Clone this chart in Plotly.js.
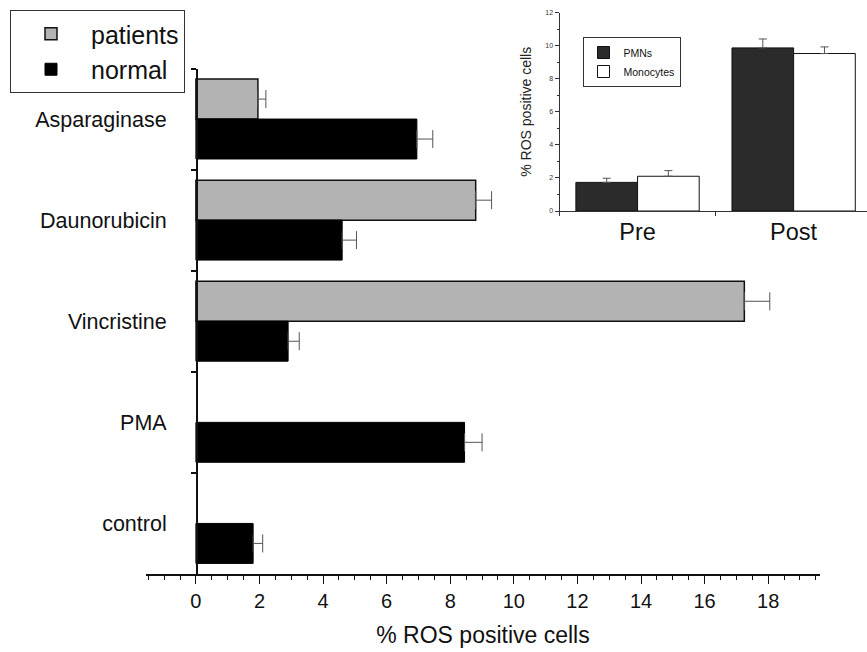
<!DOCTYPE html>
<html>
<head>
<meta charset="utf-8">
<script src="https://cdn.plot.ly/plotly-3.0.1.min.js"></script>
<style>html,body{margin:0;padding:0;background:#fff;}#chart{width:867px;height:652px;}</style>
</head>
<body>
<div id="chart"></div>
<script>
// Main chart data
const categories = ['Asparaginase', 'Daunorubicin', 'Vincristine', 'PMA', 'control'];
const patients = [1.95, 8.8, 17.25, null, null];
const patientsErr = [0.25, 0.5, 0.8, null, null];
const normal = [6.95, 4.6, 2.9, 8.45, 1.8];
const normalErr = [0.5, 0.45, 0.35, 0.55, 0.3];

// Inset data
const insetCats = ['Pre', 'Post'];
const pmns = [1.73, 9.86];
const pmnsErr = [0.25, 0.54];
const monocytes = [2.1, 9.52];
const monocytesErr = [0.34, 0.4];

const FONT = 'Liberation Sans, Arial, sans-serif';
const W = 867, H = 652;

const traces = [
  {
    type: 'bar', orientation: 'h', name: 'patients',
    y: categories, x: patients,
    marker: {color: '#b3b3b3', line: {color: '#111', width: 1.5}},
    error_x: {type: 'data', array: patientsErr, arrayminus: patientsErr.map(() => 0), symmetric: false,
              color: '#555', thickness: 1, width: 9},
    xaxis: 'x', yaxis: 'y', legend: 'legend'
  },
  {
    type: 'bar', orientation: 'h', name: 'normal',
    y: categories, x: normal,
    marker: {color: '#000', line: {color: '#000', width: 1}},
    error_x: {type: 'data', array: normalErr, arrayminus: normalErr.map(() => 0), symmetric: false,
              color: '#555', thickness: 1, width: 9},
    xaxis: 'x', yaxis: 'y', legend: 'legend'
  },
  {
    type: 'bar', name: 'PMNs',
    x: insetCats, y: pmns,
    marker: {color: '#2b2b2b', line: {color: '#111', width: 1}},
    error_y: {type: 'data', array: pmnsErr, arrayminus: pmnsErr.map(() => 0), symmetric: false,
              color: '#555', thickness: 1, width: 4},
    xaxis: 'x2', yaxis: 'y2', legend: 'legend2'
  },
  {
    type: 'bar', name: 'Monocytes',
    x: insetCats, y: monocytes,
    marker: {color: '#ffffff', line: {color: '#111', width: 1}},
    error_y: {type: 'data', array: monocytesErr, arrayminus: monocytesErr.map(() => 0), symmetric: false,
              color: '#555', thickness: 1, width: 4},
    xaxis: 'x2', yaxis: 'y2', legend: 'legend2'
  }
];

const layout = {
  width: W, height: H,
  margin: {l: 0, r: 0, t: 0, b: 0},
  paper_bgcolor: '#fff', plot_bgcolor: 'rgba(0,0,0,0)',
  font: {family: FONT, color: '#111'},
  barmode: 'group', bargap: 0.21, bargroupgap: 0,
  showlegend: true,
  xaxis: {
    domain: [146 / W, 820 / W], anchor: 'y',
    range: [-1.57, 19.63],
    tick0: 0, dtick: 2,
    ticks: 'outside', ticklen: 8, tickwidth: 1, tickcolor: '#111',
    minor: {dtick: 0.5, ticks: 'outside', ticklen: 4, tickwidth: 1, tickcolor: '#111'},
    showline: true, linecolor: '#111', linewidth: 1.5,
    showgrid: false, zeroline: false,
    tickfont: {size: 20, family: FONT, color: '#111'},
    title: {text: '% ROS positive cells', font: {size: 23, family: FONT, color: '#111'}, standoff: 16}
  },
  yaxis: {
    domain: [1 - 574 / H, 1 - 68.5 / H], anchor: 'free', position: 196 / W,
    type: 'category', categoryorder: 'array', categoryarray: categories,
    autorange: 'reversed',
    tickson: 'boundaries',
    ticks: 'outside', ticklen: 5, tickwidth: 2, tickcolor: '#111',
    showline: true, linecolor: '#111', linewidth: 1.5,
    showgrid: false, zeroline: false,
    tickfont: {size: 21.5, family: FONT, color: '#111'},
    ticklabelstandoff: 25
  },
  xaxis2: {
    domain: [559.5 / W, 1], anchor: 'y2',
    type: 'category', categoryorder: 'array', categoryarray: insetCats,
    range: [-0.5, 1.47],
    tickson: 'boundaries',
    ticks: 'outside', ticklen: 4, tickwidth: 1, tickcolor: '#333',
    showline: true, linecolor: '#333', linewidth: 1,
    showgrid: false, zeroline: false,
    tickfont: {size: 23.5, family: FONT, color: '#111'}
  },
  yaxis2: {
    domain: [1 - 211 / H, 1 - 12.5 / H], anchor: 'x2',
    range: [0, 12], dtick: 2, tick0: 0,
    ticks: 'outside', ticklen: 4, tickwidth: 1, tickcolor: '#333',
    minor: {dtick: 1, ticks: 'outside', ticklen: 2, tickwidth: 1, tickcolor: '#333'},
    showline: true, linecolor: '#333', linewidth: 1,
    showgrid: false, zeroline: false,
    tickfont: {size: 7, family: FONT, color: '#333'},
    title: {text: '% ROS positive cells', font: {size: 14, family: FONT, color: '#222'}, standoff: 10}
  },
  legend: {
    x: 10 / W, y: 1 - 10 / H, xanchor: 'left', yanchor: 'top',
    bgcolor: '#fff', bordercolor: '#333', borderwidth: 1,
    font: {size: 25, family: FONT, color: '#111'},
    traceorder: 'normal', itemwidth: 70, tracegroupgap: 0
  },
  legend2: {
    x: 582.5 / W, y: 1 - 37 / H, xanchor: 'left', yanchor: 'top',
    bgcolor: '#fff', bordercolor: '#333', borderwidth: 1,
    font: {size: 10.5, family: FONT, color: '#111'},
    traceorder: 'normal', itemwidth: 30, tracegroupgap: 0
  }
};

Plotly.newPlot('chart', traces, layout, {displayModeBar: false, staticPlot: true});
</script>
</body>
</html>
